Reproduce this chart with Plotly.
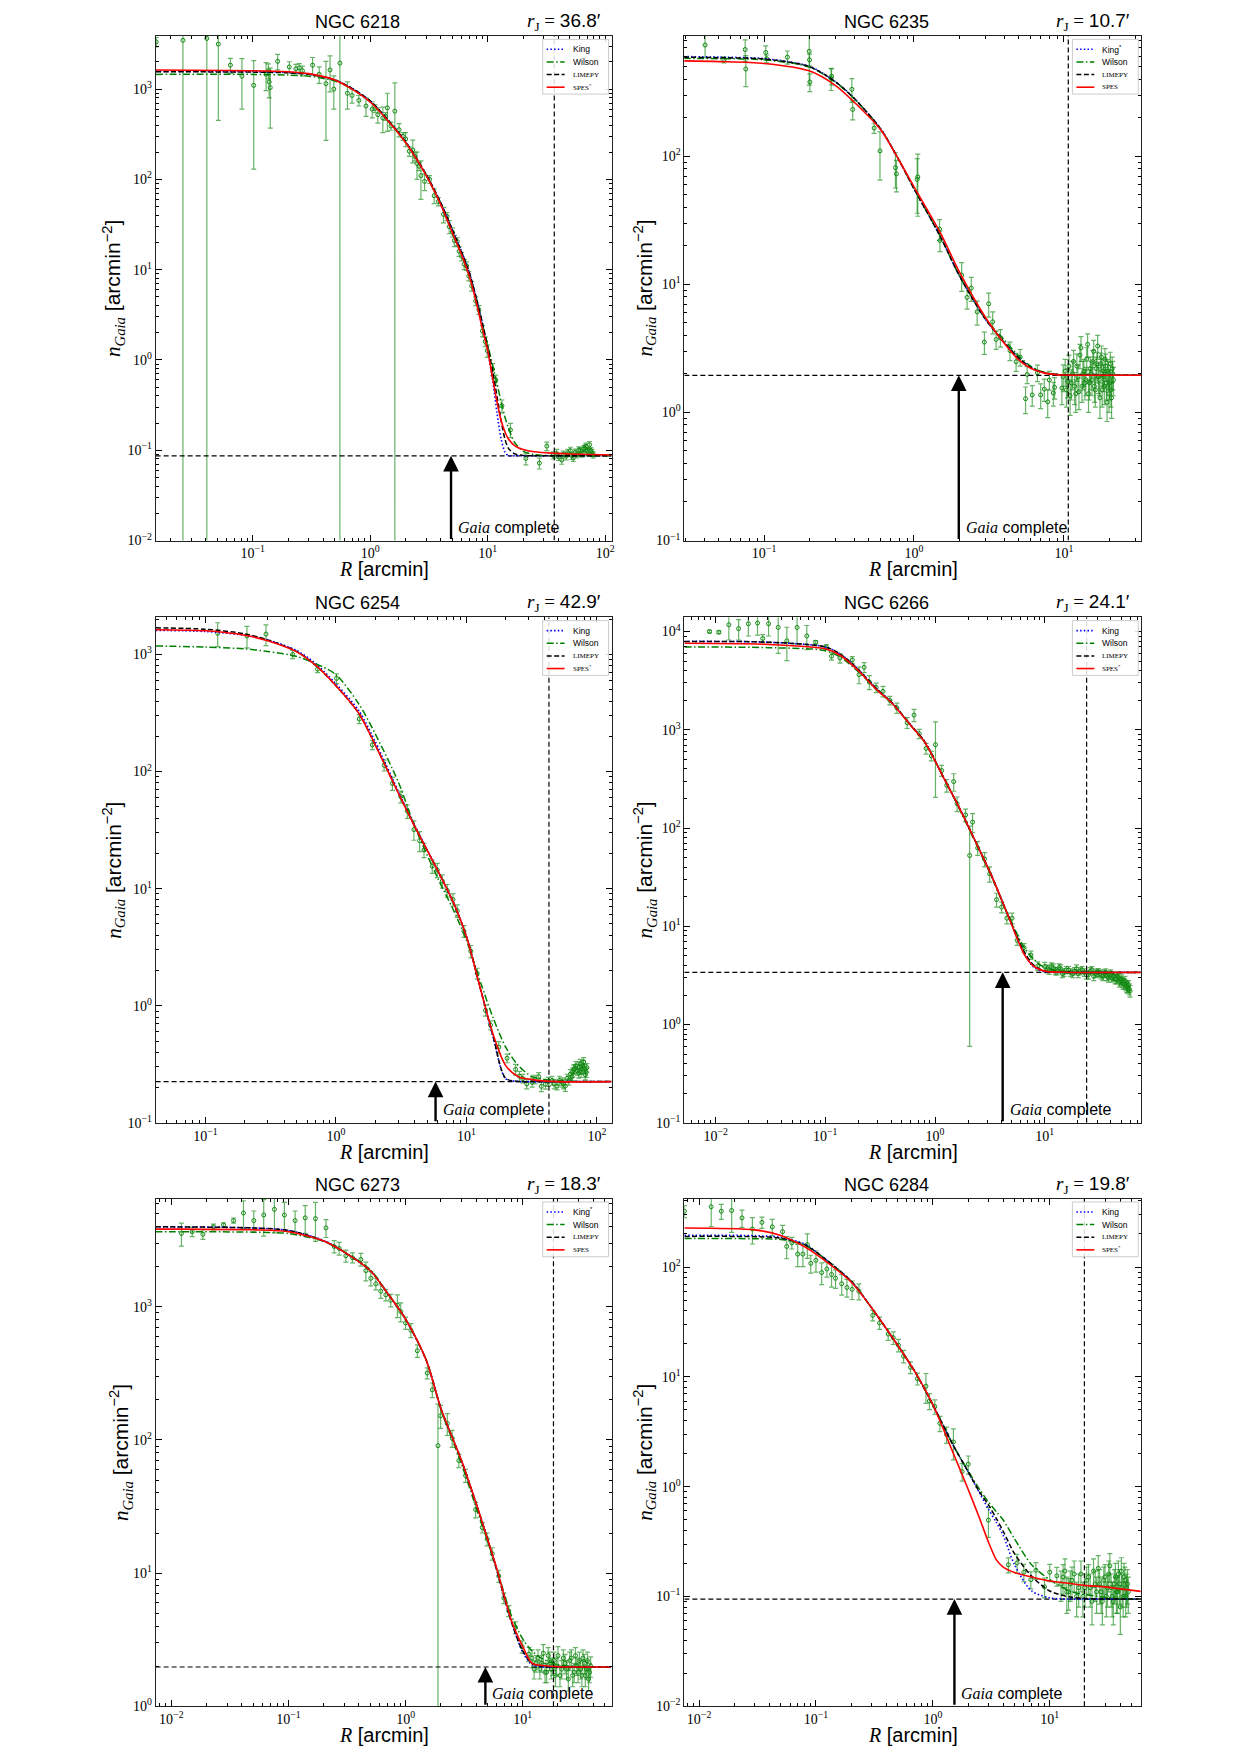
import math
import plotly.graph_objects as go

# ---------------------------------------------------------------- metadata
clusters = ["NGC 6218", "NGC 6235", "NGC 6254", "NGC 6266", "NGC 6273", "NGC 6284"]
tidal_radius = [36.8, 10.7, 42.9, 24.1, 18.3, 19.8]          # r_J [arcmin]
background_density = [0.0868, 1.95, 0.225, 3.40, 1.97, 0.0946]
gaia_complete_radius = [4.87, 1.99, 5.8, 4.14, 4.8, 1.53]
king_labels = ["King", "King<sup>*</sup>", "King", "King", "King<sup>*</sup>", "King"]
spes_labels = ["SPES<sup>*</sup>", "SPES", "SPES<sup>*</sup>", "SPES<sup>*</sup>", "SPES", "SPES<sup>*</sup>"]
decades = [-3, -2, -1, 0, 1, 2, 3, 4]
tick_labels = ["10<sup>−3</sup>", "10<sup>−2</sup>", "10<sup>−1</sup>", "10<sup>0</sup>",
               "10<sup>1</sup>", "10<sup>2</sup>", "10<sup>3</sup>", "10<sup>4</sup>"]

# ---------------------------------------------------------------- NGC 6218
R_6218 = [0.0151, 0.0255, 0.0407, 0.051, 0.0646, 0.081, 0.102, 0.130, 0.136, 0.138, 0.141, 0.163, 0.205,
          0.233, 0.249, 0.265, 0.323, 0.368, 0.42, 0.455, 0.49, 0.552, 0.64, 0.70, 0.80, 0.92, 1.04, 1.16,
          1.28, 1.40, 1.62, 1.76, 2.0, 2.3, 2.5, 2.7, 2.9, 3.5, 4.2, 4.7, 5.2, 5.7, 6.3, 6.9, 7.9, 9.0, 9.9,
          11.0, 11.7, 13.2, 15.6, 21.1, 27.5, 31.8, 38.5, 42.6, 46.6, 50.5, 53.4, 57.4, 61.3, 65.5, 68.4,
          71.8, 75.4, 79.0,
          1.1, 1.35, 1.5, 1.9, 2.15, 2.4, 2.6, 3.2, 3.8, 4.5, 5.0, 5.5, 6.0, 6.6, 7.3, 8.4, 9.5,
          36, 40, 44, 48, 52, 55.5, 59.5, 63.5, 67, 70, 73.5, 77]
n_6218 = [3330, 3470, 3640, 3150, 1840, 1390, 1100, 1460, 1600, 1200, 1040, 2030, 1760, 1680, 1720, 1600,
          1840, 1460, 1150, 1630, 1000, 1940, 900, 850, 750, 650, 600, 520, 480, 620, 570, 355, 280, 212, 150,
          110, 95, 66, 41, 30, 21, 16, 11.5, 8.5, 4.5, 2.1, 1.27, 0.79, 0.60, 0.31, 0.168, 0.081, 0.072, 0.111,
          0.092, 0.078, 0.086, 0.099, 0.082, 0.089, 0.099, 0.104, 0.111, 0.095, 0.099, 0.089,
          610, 500, 390, 300, 205, 180, 140, 100, 57, 39, 26, 20.5, 14, 11, 6.6, 3.6, 1.6,
          0.088, 0.085, 0.09, 0.094, 0.087, 0.095, 0.1, 0.092, 0.105, 0.098, 0.115, 0.094]
err_6218 = [400, 3600, 3800, 2700, 350, 790, 970, 500, 300, 400, 670, 400, 250, 200, 200, 200, 400, 300, 880,
            700, 400, 2000, 300, 150, 100, 150, 120, 100, 150, 280, 600, 60, 50, 60, 50, 50, 20, 12, 8, 5, 3,
            2, 1.5, 1, 0.5, 0.3, 0.2, 0.12, 0.08, 0.05, 0.03, 0.012, 0.01, 0.012, 0.01, 0.008, 0.008, 0.009,
            0.007, 0.007, 0.008, 0.008, 0.009, 0.007, 0.008, 0.007,
            60, 50, 40, 30, 25, 20, 15, 10, 6, 4, 3, 2, 1.5, 1.2, 0.8, 0.4, 0.2,
            0.008, 0.008, 0.008, 0.008, 0.008, 0.008, 0.009, 0.008, 0.009, 0.008, 0.01, 0.008]
Rm_6218 = [0.015, 0.1, 0.2, 0.3, 0.5, 0.7, 1.0, 1.5, 2.0, 3.0, 4.0, 5.0, 6.0, 7.0, 8.0, 9.0, 10, 11, 12, 13, 14,
           15, 17, 20, 25, 35, 50, 115]
king_6218 = [1570, 1556, 1530, 1470, 1264, 1019, 740, 417, 261, 113, 54.3, 27.6, 15.7, 9.10, 4.81, 2.56, 1.27,
             0.597, 0.256, 0.133, 0.0955, 0.0868, 0.0868, 0.0868, 0.0868, 0.0868, 0.0868, 0.0868]
wilson_6218 = [1456, 1456, 1429, 1389, 1230, 1000, 720, 409, 256, 110, 51.8, 25.6, 14.6, 8.5, 4.50, 2.44, 1.46,
               0.869, 0.543, 0.340, 0.233, 0.176, 0.121, 0.098, 0.0893, 0.0868, 0.0868, 0.0868]
limepy_6218 = [1556, 1542, 1513, 1457, 1264, 1019, 740, 417, 261, 113, 54.3, 27.6, 15.7, 9.10, 4.81, 2.56, 1.39,
               0.755, 0.391, 0.212, 0.133, 0.105, 0.091, 0.0877, 0.0868, 0.0868, 0.0868, 0.0868]
spes_6218 = [1630, 1600, 1556, 1484, 1264, 1000, 720, 409, 256, 110, 51.8, 25.6, 14.6, 8.28, 4.29, 2.22, 1.27,
             0.625, 0.340, 0.212, 0.160, 0.133, 0.112, 0.102, 0.0963, 0.0928, 0.0910, 0.0885]

# ---------------------------------------------------------------- NGC 6235
R_6235 = [0.0404, 0.054, 0.0748, 0.0755, 0.1026, 0.104, 0.143, 0.2, 0.201, 0.202, 0.28, 0.282, 0.385, 0.39,
          0.542, 0.593, 0.752, 0.764, 1.05, 1.06, 1.48, 1.49, 2.08, 2.26, 2.41, 2.64, 2.95, 3.15, 3.35, 3.53,
          3.77, 4.37, 4.80, 5.11, 5.55, 5.69, 6.15, 6.66, 7.0, 7.4, 7.8, 8.0, 8.5, 8.67, 9.7, 10.2, 10.6, 11.0,
          11.4, 11.8, 12.2, 12.6, 13.0, 13.4, 13.8, 14.2, 14.6, 15.0, 15.4, 15.8, 16.2, 16.6, 17.0, 17.4, 17.8,
          18.2, 18.6, 19.0, 19.4, 19.8, 20.2, 20.6, 21.0, 21.4,
          9.9, 10.4, 10.8, 11.2, 11.6, 12.0, 12.4, 12.8, 13.2, 13.6, 14.0, 14.4, 14.8, 15.2, 15.6, 16.0, 16.4,
          16.8, 17.2, 17.6, 18.0, 18.4, 18.8, 19.2, 19.6, 20.0, 20.4, 20.8, 21.2]
n_6235 = [738, 566, 681, 480, 646, 577, 593, 659, 566, 380, 406, 421, 333, 232, 166, 110, 81.5, 72.8, 65.9, 69,
          27, 22, 11.8, 7.9, 9.35, 6.1, 3.54, 7.05, 5.1, 3.71, 3.83, 3.04, 2.49, 2.70, 1.28, 1.98, 1.37, 2.04,
          1.37, 1.52, 1.21, 1.79, 1.42, 1.57, 1.55, 2.1, 1.75, 1.35, 2.0, 1.6, 2.3, 1.45, 3.2, 2.0, 1.7, 2.6,
          1.4, 2.2, 1.8, 3.0, 1.5, 2.4, 1.9, 1.3, 2.7, 2.1, 1.6, 2.3, 1.2, 2.0, 1.7, 1.5, 2.2, 1.8,
          1.9, 1.5, 2.3, 1.7, 2.5, 1.4, 1.9, 2.8, 1.6, 2.1, 1.8, 3.4, 1.7, 2.0, 2.5, 1.6, 2.2, 3.3, 1.8, 2.4,
          1.5, 1.9, 2.6, 1.7, 2.1, 1.4, 2.4, 1.3, 2.0]
err_6235 = [150, 30, 130, 130, 80, 40, 70, 300, 60, 60, 80, 60, 70, 40, 15, 45, 25, 20, 30, 35, 5, 4, 3, 1.5,
            2, 1.3, 0.7, 1.5, 1, 0.6, 0.6, 0.5, 0.4, 0.4, 0.3, 0.3, 0.25, 0.3, 0.3, 0.3, 0.3, 0.3, 0.3, 0.3,
            0.4, 0.5, 0.45, 0.4, 0.5, 0.45, 0.55, 0.4, 0.7, 0.5, 0.45, 0.6, 0.4, 0.5, 0.45, 0.65, 0.4, 0.55,
            0.5, 0.4, 0.6, 0.5, 0.45, 0.55, 0.35, 0.5, 0.45, 0.4, 0.5, 0.45,
            0.45, 0.4, 0.5, 0.45, 0.55, 0.4, 0.45, 0.6, 0.4, 0.5, 0.45, 0.7, 0.45, 0.5, 0.55, 0.4, 0.5, 0.7,
            0.45, 0.5, 0.4, 0.45, 0.55, 0.45, 0.5, 0.4, 0.55, 0.4, 0.5]
Rm_6235 = [0.029, 0.05, 0.1, 0.2, 0.3, 0.4, 0.6, 0.8, 1.0, 1.5, 2.0, 3.0, 4.0, 5.0, 6.0, 7.0, 8.0, 10, 15, 33]
king_6235 = [600, 594, 578, 504, 381, 283, 163, 91.8, 55.8, 23.6, 11.8, 5.33, 3.52, 2.66, 2.25, 2.08, 2.00,
             1.96, 1.95, 1.95]
wilson_6235 = [581, 578, 566, 497, 378, 281, 163, 91.8, 55.8, 23.6, 11.8, 5.4, 3.69, 2.75, 2.3, 2.1, 2.02,
               1.97, 1.95, 1.95]
limepy_6235 = [593, 588, 574, 502, 380, 282, 163, 91.8, 55.8, 23.6, 11.8, 5.33, 3.52, 2.66, 2.25, 2.08, 2.00,
               1.96, 1.95, 1.95]
spes_6235 = [555, 548, 530, 464, 356, 264, 161, 91.8, 57.7, 25.2, 12.6, 5.51, 3.47, 2.57, 2.21, 2.07, 2.00,
             1.96, 1.95, 1.95]

# ---------------------------------------------------------------- NGC 6254
R_6254 = [0.124, 0.208, 0.291, 0.466, 0.723, 1.01, 1.51, 1.90, 2.34, 2.71, 3.14, 3.53, 3.96, 4.38, 4.73, 5.47,
          5.98, 6.53, 7.13, 7.88, 8.51, 9.57, 10.8, 12.1, 14.0, 15.3, 17.7, 20.5, 23.8, 27.0, 31.9, 35.8, 40.3,
          45.3, 49.5, 54.0, 57.3, 60.8, 64.4, 66.3, 69.2, 72.4, 74.6, 76.9, 79.1, 81.5, 83.9,
          25.5, 29, 33.5, 37.5, 42.5, 47, 51.5, 55.5, 59, 62.5, 65.3, 67.8, 70.8, 73.5, 75.8, 78, 80.3, 82.7]
n_6254 = [1514, 1437, 1490, 1000, 748, 624, 281, 169, 113, 79, 61, 45.8, 31.9, 25.7, 21.4, 15.5, 14.4, 11.6,
          9.65, 8.05, 6.48, 4.34, 2.92, 1.89, 0.914, 0.684, 0.443, 0.356, 0.286, 0.239, 0.222, 0.248, 0.214,
          0.23, 0.206, 0.222, 0.206, 0.23, 0.248, 0.286, 0.308, 0.266, 0.319, 0.286, 0.331, 0.258, 0.296,
          0.25, 0.215, 0.235, 0.205, 0.225, 0.215, 0.23, 0.215, 0.24, 0.26, 0.27, 0.29, 0.28, 0.30, 0.27, 0.31,
          0.29, 0.27]
err_6254 = [350, 300, 300, 80, 50, 60, 25, 15, 12, 10, 7, 6, 6, 5, 3, 2, 2, 1.5, 1.2, 1, 0.8, 0.5, 0.35, 0.2,
            0.1, 0.06, 0.05, 0.03, 0.03, 0.02, 0.02, 0.02, 0.02, 0.02, 0.015, 0.02, 0.02, 0.02, 0.02, 0.025,
            0.025, 0.025, 0.03, 0.025, 0.03, 0.025, 0.025,
            0.025, 0.02, 0.02, 0.02, 0.02, 0.02, 0.02, 0.02, 0.02, 0.025, 0.025, 0.025, 0.025, 0.03, 0.025,
            0.03, 0.025, 0.025]
Rm_6254 = [0.0415, 0.1, 0.2, 0.3, 0.5, 0.7, 1.0, 1.5, 2, 3, 4, 6, 8, 10, 13, 16, 20, 25, 32, 50, 130]
king_6254 = [1603, 1568, 1459, 1330, 1080, 834, 560, 330, 180, 68, 35, 14.4, 7.48, 3.90, 1.31, 0.54, 0.238,
             0.226, 0.225, 0.225, 0.225]
wilson_6254 = [1181, 1156, 1115, 1060, 960, 834, 672, 376, 210, 81.8, 34.3, 12.4, 6.47, 3.62, 1.52, 0.791,
               0.443, 0.308, 0.248, 0.229, 0.225]
limepy_6254 = [1687, 1640, 1500, 1330, 1060, 805, 540, 313, 169, 65.9, 34.3, 14.4, 7.48, 3.90, 1.31, 0.55,
               0.240, 0.226, 0.225, 0.225, 0.225]
spes_6254 = [1626, 1591, 1459, 1309, 1052, 805, 540, 313, 169, 65.9, 34.3, 14.4, 7.48, 3.90, 1.31, 0.570,
             0.308, 0.248, 0.234, 0.225, 0.225]

# ---------------------------------------------------------------- NGC 6266
R_6266 = [0.0088, 0.0107, 0.0132, 0.0162, 0.0199, 0.0241, 0.0269, 0.0304, 0.0372, 0.0446, 0.0553, 0.0678,
          0.0817, 0.102, 0.114, 0.136, 0.176, 0.203, 0.226, 0.252, 0.291, 0.336, 0.388, 0.449, 0.557, 0.644,
          0.718, 0.829, 0.925, 1.01, 1.15, 1.28, 1.48, 1.59, 1.90, 2.07, 2.2, 2.45, 2.83, 3.15, 3.64, 4.05,
          4.52, 5.04, 5.61, 6.48, 7.49, 8.65, 10, 11, 12, 13, 14, 15, 16.5, 18, 19.5, 21, 23, 25, 27, 29, 31,
          33, 35, 37, 39, 41, 43, 45, 47, 49, 51, 53, 55, 57, 59,
          10.5, 11.5, 12.5, 13.5, 14.5, 15.7, 17.2, 18.7, 20.2, 22, 24, 26, 28, 30, 32, 34, 36, 38, 40, 42, 44,
          46, 48, 50, 52, 54, 56, 58, 60]
n_6266 = [10000, 9840, 11700, 10700, 12000, 12200, 8490, 12000, 11000, 8050, 11000, 9020, 7780, 6950, 5610,
          5370, 5140, 3640, 4320, 3060, 2690, 2460, 1990, 1670, 1180, 1410, 912, 646, 543, 705, 385, 272, 297,
          177, 136, 52.6, 115, 62.7, 48.3, 34.2, 18.7, 15.7, 12.1, 12.1, 7.21, 6.07, 5.10, 3.94, 3.9, 3.6, 3.8,
          3.5, 3.7, 3.4, 3.6, 3.3, 3.7, 3.5, 3.4, 3.2, 3.6, 3.3, 3.4, 3.2, 3.3, 3.1, 3.2, 3.0, 3.1, 2.9, 3.0,
          2.8, 2.7, 2.6, 2.5, 2.4, 2.3,
          3.7, 3.9, 3.5, 3.8, 3.3, 3.6, 3.4, 3.5, 3.3, 3.6, 3.2, 3.5, 3.1, 3.4, 3.3, 3.1, 3.4, 3.0, 3.3, 3.1,
          2.9, 3.1, 2.7, 2.9, 2.6, 2.8, 2.4, 2.5, 2.2]
err_6266 = [300, 300, 3500, 2500, 3000, 3000, 800, 3000, 5000, 3000, 3500, 2500, 300, 400, 500, 600, 400, 700,
            500, 500, 300, 300, 200, 200, 150, 200, 100, 80, 60, 500, 50, 40, 60, 30, 20, 52, 25, 10, 8, 6, 3,
            2, 1.5, 1.5, 0.8, 0.6, 0.5, 0.4, 0.4, 0.35, 0.35, 0.3, 0.35, 0.3, 0.3, 0.3, 0.35, 0.3, 0.3, 0.3,
            0.3, 0.3, 0.3, 0.3, 0.3, 0.3, 0.3, 0.3, 0.3, 0.3, 0.3, 0.3, 0.3, 0.3, 0.3, 0.3, 0.3,
            0.35, 0.35, 0.3, 0.35, 0.3, 0.3, 0.3, 0.3, 0.3, 0.3, 0.3, 0.3, 0.3, 0.3, 0.3, 0.3, 0.3, 0.3, 0.3,
            0.3, 0.3, 0.3, 0.3, 0.3, 0.3, 0.3, 0.3, 0.3, 0.3]
Rm_6266 = [0.0052, 0.03, 0.1, 0.14, 0.2, 0.3, 0.4, 0.6, 0.81, 1.2, 1.63, 2.3, 3.27, 4.5, 6.56, 8, 10, 15, 75]
king_6266 = [7925, 7787, 6957, 5800, 4100, 2550, 1920, 1120, 750, 324, 169, 76, 33, 14, 5.2, 3.8, 3.45, 3.40,
             3.40]
wilson_6266 = [6957, 6850, 6384, 5400, 3900, 2500, 1893, 1107, 743, 324, 165, 74, 32, 14, 6.0, 4.6, 3.8, 3.45,
               3.40]
limepy_6266 = [7925, 7787, 6957, 5800, 4100, 2550, 1920, 1120, 750, 324, 169, 76, 33, 14, 5.4, 4.0, 3.5, 3.41,
               3.40]
spes_6266 = [7586, 7391, 6668, 5640, 4000, 2500, 1893, 1107, 743, 324, 169, 76, 33, 14, 5.1, 3.9, 3.5, 3.41,
             3.40]

# ---------------------------------------------------------------- NGC 6273
R_6273 = [0.0122, 0.0151, 0.0186, 0.0229, 0.0279, 0.034, 0.0413, 0.0506, 0.0615, 0.0759, 0.0923, 0.114, 0.139,
          0.170, 0.209, 0.246, 0.271, 0.309, 0.352, 0.415, 0.458, 0.505, 0.557, 0.614, 0.678, 0.747, 0.851,
          0.909, 1.0, 1.11, 1.26, 1.53, 1.69, 1.89, 1.99, 2.27, 2.50, 2.85, 3.25, 3.96, 4.51, 4.97, 5.49, 6.25,
          6.90, 7.6, 8.67, 9.88, 11.3, 12, 13, 14, 15, 16, 17, 18, 19, 20, 21.5, 23, 24.5, 26, 27.5, 29, 30.5,
          32, 33.5, 35, 36.5, 38,
          12.5, 13.5, 14.5, 15.5, 16.5, 17.5, 18.5, 19.5, 20.8, 22.2, 23.7, 25.2, 26.7, 28.2, 29.7, 31.2, 32.7,
          34.2, 35.7, 37.2]
n_6273 = [3560, 3670, 3510, 3990, 4120, 4450, 5070, 4450, 4900, 5400, 4900, 4450, 4660, 4600, 3920, 2840, 2750,
          2420, 2340, 2270, 1870, 1640, 1490, 1310, 1230, 1120, 1030, 920, 758, 667, 468, 318, 238, 90.6, 152,
          133, 103, 70, 54.1, 30, 22, 18, 14, 9.5, 6.5, 5.2, 3.9, 2.80, 2.46, 2.3, 2.1, 1.9, 2.5, 1.8, 2.2,
          2.0, 1.7, 2.4, 1.9, 2.1, 1.6, 2.3, 1.8, 2.0, 2.2, 1.7, 2.1, 1.9, 1.6, 2.0,
          1.9, 2.3, 2.1, 1.8, 2.4, 1.9, 2.2, 2.0, 1.7, 2.3, 1.9, 2.2, 1.7, 2.4, 1.8, 1.9, 2.3, 1.7, 2.2, 1.8]
err_6273 = [700, 300, 300, 200, 150, 200, 1200, 800, 1500, 1800, 1200, 800, 1100, 1500, 600, 300, 300, 250, 200,
            250, 300, 200, 150, 150, 120, 120, 200, 150, 80, 80, 50, 30, 30, 95, 30, 25, 15, 8, 6, 4, 2, 2,
            1.5, 1, 0.6, 0.5, 0.4, 0.3, 0.3, 0.35, 0.3, 0.3, 0.4, 0.3, 0.35, 0.3, 0.3, 0.4, 0.3, 0.35, 0.3,
            0.35, 0.3, 0.3, 0.35, 0.3, 0.35, 0.3, 0.3, 0.35,
            0.3, 0.35, 0.3, 0.3, 0.35, 0.3, 0.35, 0.3, 0.3, 0.35, 0.3, 0.35, 0.3, 0.35, 0.3, 0.3, 0.35, 0.3,
            0.35, 0.3]
Rm_6273 = [0.0073, 0.01, 0.05, 0.1, 0.2, 0.3, 0.5, 0.7, 1, 1.5, 2, 3, 4, 5, 6, 8, 10, 12, 15, 20, 30, 57]
king_6273 = [3990, 3990, 3916, 3750, 3150, 2578, 1868, 1268, 809, 398, 173, 70.0, 33.4, 18.1, 10.6, 4.3, 2.55,
             2.05, 1.97, 1.97, 1.97, 1.97]
wilson_6273 = [3672, 3672, 3640, 3556, 3100, 2578, 1900, 1268, 809, 398, 170, 66, 31, 17.5, 10.8, 4.8, 3.2, 2.6,
               2.25, 2.05, 1.98, 1.97]
limepy_6273 = [3990, 3990, 3916, 3750, 3128, 2578, 1868, 1268, 809, 398, 173, 70.0, 33.4, 18.1, 10.5, 4.3, 2.6,
               2.1, 1.98, 1.97, 1.97, 1.97]
spes_6273 = [3838, 3838, 3791, 3672, 3128, 2578, 1868, 1268, 809, 398, 173, 70.0, 33.4, 18.1, 10.8, 4.40, 2.80,
             2.10, 2.02, 1.98, 1.97, 1.97]

# ---------------------------------------------------------------- NGC 6284
R_6284 = [0.0075, 0.0127, 0.0155, 0.019, 0.0233, 0.0286, 0.0345, 0.0423, 0.0518, 0.0562, 0.0622, 0.0698,
          0.0773, 0.0844, 0.0903, 0.1, 0.112, 0.124, 0.136, 0.147, 0.166, 0.184, 0.204, 0.233, 0.306, 0.35,
          0.415, 0.459, 0.508, 0.562, 0.644, 0.738, 0.873, 0.935, 1.04, 1.15, 1.31, 1.5, 1.78, 2.01, 2.99, 4.43,
          5.26, 6.01, 6.89, 7.62, 9.03, 10, 11.5, 12.5, 13.5, 14.5, 15.5, 17, 18.5, 20, 21.5, 23, 24.5, 26,
          27.5, 29, 30.5, 32, 33.5, 35, 36.5, 38, 39.5, 41, 42.5, 44, 45.5, 47,
          13, 14, 15, 16.2, 17.7, 19.2, 20.7, 22.2, 23.7, 25.2, 26.7, 28.2, 29.7, 31.2, 32.7, 34.2, 35.7, 37.2,
          38.7, 40.2, 41.7, 43.2, 44.7, 46.2]
n_6284 = [322, 354, 322, 327, 280, 222, 255, 232, 210, 154, 166, 131, 131, 160, 108, 115, 89, 96, 85.5, 79,
          70.4, 65.1, 62.6, 60.2, 36.3, 31, 24.5, 22.7, 19.4, 15.4, 12.2, 9.62, 8.22, 6.02, 5.36, 3.77, 2.98,
          2.55, 1.37, 1.6, 0.495, 0.194, 0.202, 0.166, 0.142, 0.173, 0.122, 0.166, 0.154, 0.13, 0.17, 0.11,
          0.14, 0.10, 0.16, 0.12, 0.15, 0.09, 0.13, 0.18, 0.11, 0.14, 0.10, 0.16, 0.12, 0.09, 0.15, 0.11, 0.13,
          0.17, 0.10, 0.14, 0.12, 0.11,
          0.15, 0.11, 0.13, 0.16, 0.12, 0.10, 0.14, 0.12, 0.17, 0.11, 0.13, 0.09, 0.15, 0.12, 0.19, 0.10, 0.13,
          0.11, 0.16, 0.08, 0.12, 0.15, 0.10, 0.13]
err_6284 = [40, 120, 50, 120, 50, 60, 30, 40, 30, 35, 20, 30, 30, 40, 20, 25, 20, 15, 20, 15, 15, 12, 12, 10, 4,
            4, 3, 3, 2.5, 2, 1.5, 1.2, 2.5, 1, 0.8, 0.6, 0.5, 0.8, 0.25, 0.3, 0.15, 0.03, 0.04, 0.03, 0.025,
            0.03, 0.025, 0.03, 0.03, 0.04, 0.05, 0.035, 0.045, 0.035, 0.05, 0.04, 0.045, 0.035, 0.04, 0.055,
            0.04, 0.045, 0.035, 0.05, 0.04, 0.035, 0.05, 0.04, 0.045, 0.055, 0.035, 0.045, 0.04, 0.04,
            0.045, 0.04, 0.04, 0.05, 0.04, 0.035, 0.045, 0.04, 0.05, 0.04, 0.045, 0.035, 0.045, 0.04, 0.055,
            0.035, 0.045, 0.04, 0.05, 0.035, 0.04, 0.05, 0.035, 0.045]
Rm_6284 = [0.0075, 0.03, 0.05, 0.08, 0.1, 0.2, 0.3, 0.5, 0.7, 1, 1.5, 2, 2.5, 3, 3.5, 4, 5, 7, 10, 15, 20, 30,
           40, 60]
king_6284 = [194, 193, 186, 162, 138, 74.4, 42.4, 19.4, 11.2, 5.57, 2.36, 1.37, 0.88, 0.62, 0.47, 0.36, 0.194,
             0.112, 0.097, 0.0946, 0.0946, 0.0946, 0.0946, 0.0946]
wilson_6284 = [182, 181, 178, 158, 137, 74, 42, 19.4, 11.2, 5.57, 2.36, 1.40, 0.95, 0.72, 0.59, 0.496, 0.335,
               0.194, 0.142, 0.111, 0.104, 0.098, 0.0955, 0.0946]
limepy_6284 = [190, 189, 183, 160, 137, 74.4, 42.4, 19.4, 11.2, 5.57, 2.36, 1.37, 0.90, 0.678, 0.51, 0.392,
               0.245, 0.153, 0.112, 0.0985, 0.0955, 0.0946, 0.0946, 0.0946]
spes_6284 = [227, 218, 194, 153, 131, 73.1, 42.4, 19.4, 11.2, 5.57, 2.0, 0.95, 0.52, 0.31, 0.215, 0.185, 0.165,
             0.150, 0.138, 0.131, 0.126, 0.122, 0.117, 0.111]

panels = [
    (R_6218, n_6218, err_6218, Rm_6218, king_6218, wilson_6218, limepy_6218, spes_6218),
    (R_6235, n_6235, err_6235, Rm_6235, king_6235, wilson_6235, limepy_6235, spes_6235),
    (R_6254, n_6254, err_6254, Rm_6254, king_6254, wilson_6254, limepy_6254, spes_6254),
    (R_6266, n_6266, err_6266, Rm_6266, king_6266, wilson_6266, limepy_6266, spes_6266),
    (R_6273, n_6273, err_6273, Rm_6273, king_6273, wilson_6273, limepy_6273, spes_6273),
    (R_6284, n_6284, err_6284, Rm_6284, king_6284, wilson_6284, limepy_6284, spes_6284),
]

# ---------------------------------------------------------------- geometry / styles
W, H = 1241, 1754
col_px = [(156, 613), (686, 1144)]
row_px = [(36, 543), (620, 1128), (1204, 1714)]
x_range = [[-1.826, 2.053], [-1.532, 1.516], [-1.382, 2.112], [-2.285, 1.88], [-2.134, 1.758], [-2.126, 1.783]]
y_range = [[-2, 3.59], [-1, 2.94], [-1, 3.318], [-1, 4.146], [0, 3.814], [-2, 2.624]]
ylabel_px = [113, 646, 113, 646, 121, 646]

SERIF = "Liberation Serif"
SANS = "Liberation Sans"
model_styles = [  # colour, dash, width
    ("#0000ff", "1.5px,2.2px", 1.6),
    ("#008000", "7px,2.5px,1.5px,2.5px", 1.5),
    ("#000000", "5px,2.5px", 1.5),
    ("#ff0000", "solid", 1.6),
]


def fx(px):
    return px / W


def fy(py):
    return 1 - py / H


def ticks_in(rng):
    sel = [k for k, e in enumerate(decades) if rng[0] - 1e-6 <= e <= rng[1] + 1e-6]
    return [10 ** decades[k] for k in sel], [tick_labels[k] for k in sel]


fig = go.Figure()
shapes, annotations, axes = [], [], {}

for i, (R, n, err, Rm, king, wilson, limepy, spes) in enumerate(panels):
    r, c = divmod(i, 2)
    x0, x1 = col_px[c]
    y0, y1 = row_px[r]
    sfx = "" if i == 0 else str(i + 1)
    xa, ya = "x" + sfx, "y" + sfx
    common = dict(type="log", ticks="inside", ticklen=6, tickwidth=1, tickcolor="black",
                  mirror="allticks", showline=True, linecolor="#222222", linewidth=1,
                  showgrid=False, zeroline=False,
                  tickfont=dict(family=SERIF, size=14, color="black"),
                  minor=dict(ticks="inside", ticklen=3, tickwidth=0.8, tickcolor="black",
                             dtick="D1", showgrid=False))
    xtv, xtt = ticks_in(x_range[i])
    ytv, ytt = ticks_in(y_range[i])
    axes["xaxis" + sfx] = dict(common, domain=[fx(x0), fx(x1)], range=x_range[i], anchor=ya,
                               tickvals=xtv, ticktext=xtt)
    axes["yaxis" + sfx] = dict(common, domain=[fy(y1), fy(y0)], range=y_range[i], anchor=xa,
                               tickvals=ytv, ticktext=ytt)

    # data with error bars
    fig.add_trace(go.Scatter(
        x=R, y=n, mode="markers", xaxis=xa, yaxis=ya, showlegend=False,
        marker=dict(symbol="circle-open", size=4, color="#138a13", line=dict(width=1)),
        error_y=dict(type="data", array=err, visible=True, color="rgba(0,128,0,0.6)",
                     thickness=1.2, width=2.5)))

    # background level and Jacobi radius
    bg = background_density[i]
    fig.add_trace(go.Scatter(x=[10 ** x_range[i][0], 10 ** x_range[i][1]], y=[bg, bg], mode="lines",
                             xaxis=xa, yaxis=ya, showlegend=False,
                             line=dict(color="black", width=1.2, dash="5px,3px")))
    fig.add_trace(go.Scatter(x=[tidal_radius[i], tidal_radius[i]],
                             y=[10 ** y_range[i][0], 10 ** y_range[i][1]], mode="lines",
                             xaxis=xa, yaxis=ya, showlegend=False,
                             line=dict(color="black", width=1.2, dash="5px,3px")))

    # models
    for vals, (col, dash, wid) in zip([king, wilson, limepy, spes], model_styles):
        fig.add_trace(go.Scatter(x=Rm, y=vals, mode="lines", xaxis=xa, yaxis=ya, showlegend=False,
                                 line=dict(color=col, dash=dash, width=wid, shape="spline", smoothing=0.8)))

    # arrow "Gaia complete"
    gc = gaia_complete_radius[i]
    annotations.append(dict(x=math.log10(gc), y=math.log10(bg), ax=math.log10(gc), ay=y_range[i][0],
                            xref=xa, yref=ya, axref=xa, ayref=ya, text="", showarrow=True,
                            arrowhead=2, arrowsize=1.3, arrowwidth=2.4, arrowcolor="black", standoff=0))
    annotations.append(dict(x=math.log10(gc), y=fy(y1 - 13), xref=xa, yref="paper", xanchor="left",
                            yanchor="middle", xshift=5, showarrow=False,
                            text=f'<span style="font-family:{SERIF}"><i>Gaia</i></span> complete',
                            font=dict(family=SANS, size=16, color="black")))

    # titles
    annotations.append(dict(x=fx((x0 + x1) / 2 - 26), y=fy(y0 - 14), xref="paper", yref="paper",
                            text=clusters[i], showarrow=False, xanchor="center", yanchor="middle",
                            font=dict(family=SANS, size=18, color="black")))
    annotations.append(dict(x=fx(x1 - 9), y=fy(y0 - 14), xref="paper", yref="paper",
                            text=f'<span style="font-family:{SERIF}"><i>r</i><sub>J</sub> = </span>'
                                 f'{tidal_radius[i]}′',
                            showarrow=False, xanchor="right", yanchor="middle",
                            font=dict(family=SANS, size=19, color="black")))
    # axis labels
    annotations.append(dict(x=fx((x0 + x1) / 2), y=fy(y1 + 29), xref="paper", yref="paper",
                            text=f'<span style="font-family:{SERIF}"><i>R</i></span> [arcmin]',
                            showarrow=False, xanchor="center", yanchor="middle",
                            font=dict(family=SANS, size=20, color="black")))
    annotations.append(dict(x=fx(ylabel_px[i]), y=fy((y0 + y1) / 2), xref="paper", yref="paper",
                            text=f'<span style="font-family:{SERIF}"><i>n</i><sub><i>Gaia</i></sub></span>'
                                 f' [arcmin<sup>−2</sup>]',
                            showarrow=False, textangle=-90, xanchor="center", yanchor="middle",
                            font=dict(family=SANS, size=21, color="black")))

    # legend box drawn by hand
    bx1 = x1 - 3
    bx0 = bx1 - 66
    by0 = y0 + 3.5
    by1 = by0 + 55
    shapes.append(dict(type="rect", xref="paper", yref="paper", x0=fx(bx0), x1=fx(bx1), y0=fy(by1), y1=fy(by0),
                       line=dict(color="#cccccc", width=1), fillcolor="rgba(255,255,255,0.85)"))
    labels = [(king_labels[i], SANS, 8.5), ("Wilson", SANS, 8.5), ("LIMEPY", SERIF, 7), (spes_labels[i], SERIF, 7)]
    for k, ((lab, fam, fs), (col, dash, wid)) in enumerate(zip(labels, model_styles)):
        ly = by0 + 10 + 12.7 * k
        shapes.append(dict(type="line", xref="paper", yref="paper", x0=fx(bx0 + 4), x1=fx(bx0 + 22),
                           y0=fy(ly), y1=fy(ly), line=dict(color=col, dash=dash, width=wid)))
        annotations.append(dict(x=fx(bx0 + 28), y=fy(ly), xref="paper", yref="paper", text=lab,
                                showarrow=False, xanchor="left", yanchor="middle",
                                font=dict(family=fam, size=fs, color="black")))

fig.update_layout(
    width=W, height=H, margin=dict(l=0, r=0, t=0, b=0),
    paper_bgcolor="white", plot_bgcolor="white",
    font=dict(family=SANS, color="black"),
    showlegend=False, shapes=shapes, annotations=annotations, **axes)

fig.write_html("out.html")
